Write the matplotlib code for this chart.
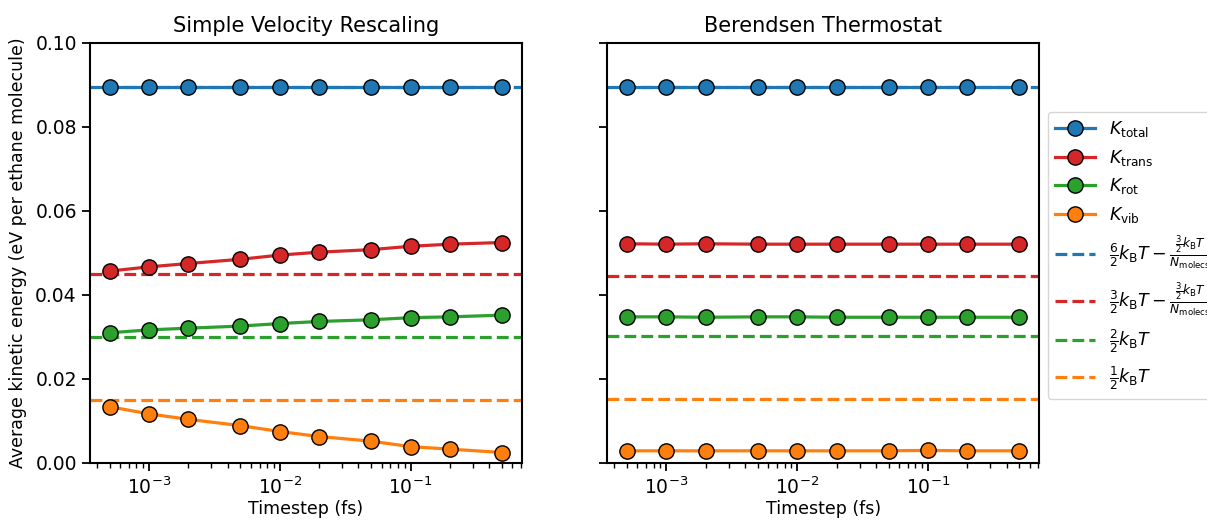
import numpy as np
import matplotlib.pyplot as plt

timesteps = [5e-4, 1e-3, 2e-3, 5e-3, 1e-2, 2e-2, 5e-2, 1e-1, 2e-1, 5e-1]

# simple velocity rescaling
svr_total = [0.0896] * 10
svr_trans = [0.0457, 0.0467, 0.0475, 0.0485, 0.0495, 0.0502, 0.0508, 0.0516, 0.0521, 0.0525]
svr_rot = [0.0310, 0.0317, 0.0321, 0.0326, 0.0332, 0.0337, 0.0341, 0.0346, 0.0348, 0.0352]
svr_vib = [0.0134, 0.0117, 0.0104, 0.0089, 0.0075, 0.0063, 0.0052, 0.0039, 0.0033, 0.0025]
svr_ref = [0.0896, 0.0449, 0.0300, 0.0150]

# berendsen thermostat
ber_total = [0.0896] * 10
ber_trans = [0.0522, 0.0521, 0.0522, 0.0521, 0.0521, 0.0521, 0.0521, 0.0521, 0.0521, 0.0521]
ber_rot = [0.0348, 0.0348, 0.0347, 0.0348, 0.0348, 0.0347, 0.0347, 0.0347, 0.0347, 0.0347]
ber_vib = [0.0029, 0.0029, 0.0029, 0.0029, 0.0029, 0.0029, 0.0029, 0.0030, 0.0029, 0.0029]
ber_ref = [0.0896, 0.0445, 0.0302, 0.0152]

colors = ['tab:blue', 'tab:red', 'tab:green', 'tab:orange']
labels = [r'$K_{\rm total}$', r'$K_{\rm trans}$', r'$K_{\rm rot}$', r'$K_{\rm vib}$']
ref_labels = [r'$\frac{6}{2}k_{\rm B}T - \frac{\frac{3}{2}k_{\rm B}T}{N_{\rm molecs}}$',
              r'$\frac{3}{2}k_{\rm B}T - \frac{\frac{3}{2}k_{\rm B}T}{N_{\rm molecs}}$',
              r'$\frac{2}{2}k_{\rm B}T$',
              r'$\frac{1}{2}k_{\rm B}T$']

plt.rcParams['font.size'] = 12.5

fig, axes = plt.subplots(1, 2, figsize=(12.07, 5.21), dpi=100, sharey=True)
fig.subplots_adjust(left=90/1207, right=1039/1207, bottom=58/521, top=478/521, wspace=0.199)

panels = [(axes[0], 'Simple Velocity Rescaling', [svr_total, svr_trans, svr_rot, svr_vib], svr_ref),
          (axes[1], 'Berendsen Thermostat', [ber_total, ber_trans, ber_rot, ber_vib], ber_ref)]

for ax, title, series, refs in panels:
    handles = []
    for vals, c, lab in zip(series, colors, labels):
        h, = ax.plot(timesteps, vals, '-o', color=c, lw=2.3, ms=11,
                     markeredgecolor='black', markeredgewidth=1.0, label=lab, zorder=3)
        handles.append(h)
    for val, c, lab in zip(refs, colors, ref_labels):
        h = ax.axhline(val, color=c, ls='--', lw=2.3, label=lab, zorder=2)
        handles.append(h)
    ax.set_xscale('log')
    ax.set_title(title, fontsize=15, pad=8)
    ax.set_xlabel('Timestep (fs)', labelpad=2)
    ax.tick_params(which='major', length=6, width=1.3, labelsize=13.5)
    ax.tick_params(which='minor', length=3.5, width=1.0)
    for sp in ax.spines.values():
        sp.set_linewidth(1.5)

axes[0].set_ylim(0, 0.1)
axes[0].set_yticks([0, 0.02, 0.04, 0.06, 0.08, 0.10])
axes[0].set_ylabel('Average kinetic energy (eV per ethane molecule)', labelpad=6)

fig.legend(handles=handles, loc='upper left', bbox_to_anchor=(1048/1207, 1 - 112/521),
           fontsize=12.5, handlelength=2.3, borderaxespad=0, labelspacing=0.5)

fig.savefig('out.png', dpi=100)
